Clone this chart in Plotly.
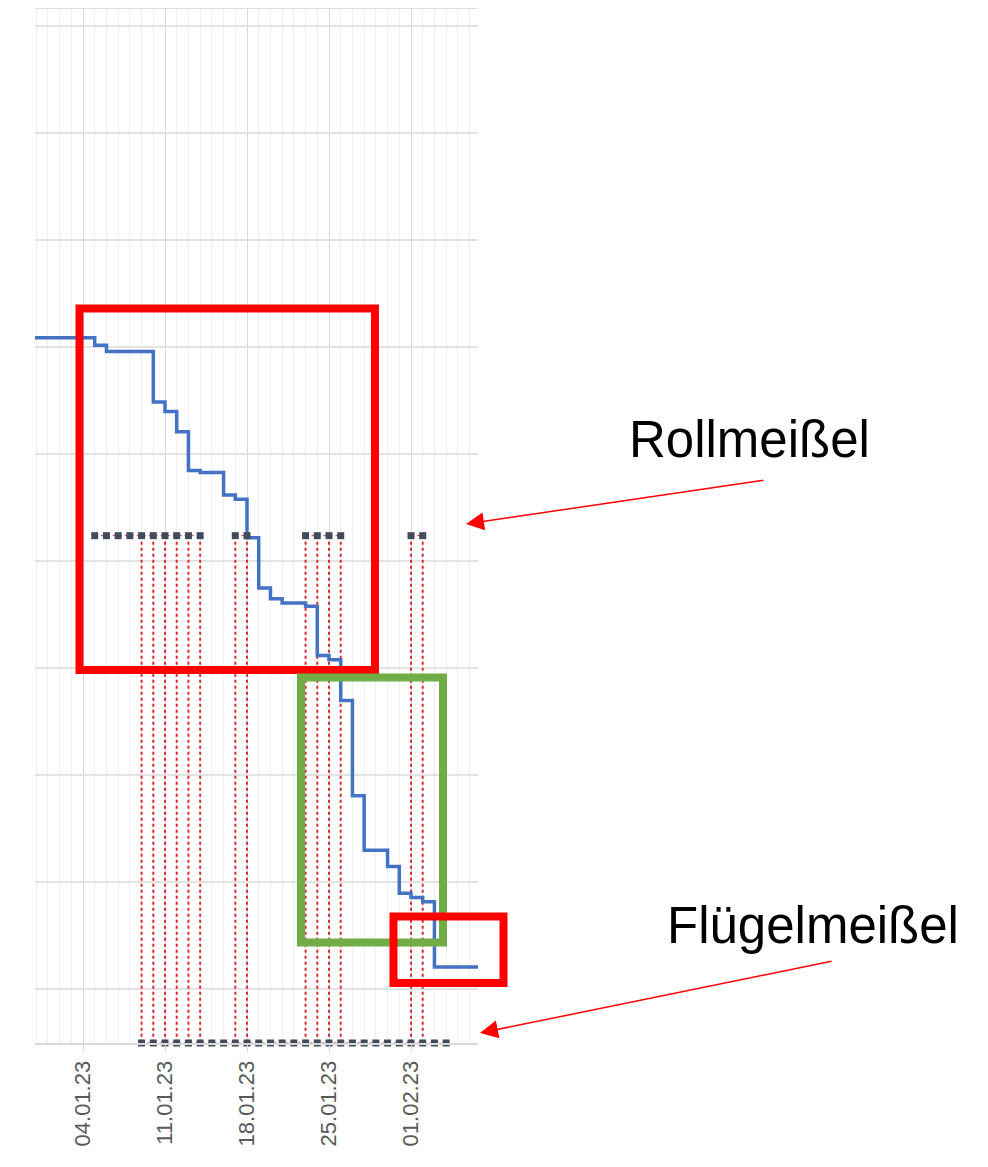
import plotly.graph_objects as go

# ---------------- data ----------------
step_dates = ["2022-12-30", "2023-01-05", "2023-01-06", "2023-01-10", "2023-01-11",
              "2023-01-12", "2023-01-13", "2023-01-14", "2023-01-16", "2023-01-17",
              "2023-01-18", "2023-01-19", "2023-01-20", "2023-01-21", "2023-01-23",
              "2023-01-24", "2023-01-25", "2023-01-26", "2023-01-27", "2023-01-28",
              "2023-01-30", "2023-01-31", "2023-02-01", "2023-02-02", "2023-02-03",
              "2023-02-07"]
step_values = [609, 602, 596, 549, 540, 521, 485, 483, 462, 458, 422, 375, 365, 361,
               358, 312, 308, 270, 181, 130, 115, 90, 86, 82, 21, 21]

roll_dates = ["2023-01-05", "2023-01-06", "2023-01-07", "2023-01-08", "2023-01-09",
              "2023-01-10", "2023-01-11", "2023-01-12", "2023-01-13", "2023-01-14",
              None,
              "2023-01-17", "2023-01-18",
              None,
              "2023-01-23", "2023-01-24", "2023-01-25", "2023-01-26",
              None,
              "2023-02-01", "2023-02-02"]
roll_level = 424

fluegel_dates = ["2023-01-%02d" % d for d in range(9, 32)] + \
                ["2023-02-%02d" % d for d in range(1, 5)]
fluegel_level = -50

drop_dates = ["2023-01-09", "2023-01-10", "2023-01-11", "2023-01-12", "2023-01-13",
              "2023-01-14", "2023-01-17", "2023-01-18", "2023-01-23", "2023-01-24",
              "2023-01-25", "2023-01-26", "2023-02-01", "2023-02-02"]

# ---------------- layout geometry ----------------
OFF = 8                      # page body margin
W, H = 988 - 2 * OFF, 1167 - 2 * OFF
PL, PR, PT, PB = 35, 478, 8, 1043   # plot area in page pixels


def px(x):
    return (x - PL) / (PR - PL)


def py(y):
    return (PB - y) / (PB - PT)


MARK = "#414b5a"
RED_DOT = "#dd2a2f"

fig = go.Figure()

# vertical dotted drop lines
vx, vy = [], []
for d in drop_dates:
    vx += [d, d, None]
    vy += [roll_level, fluegel_level, None]
fig.add_trace(go.Scatter(x=vx, y=vy, mode="lines",
                         line=dict(color=RED_DOT, width=2, dash="dot"),
                         hoverinfo="skip", showlegend=False, cliponaxis=False))

# step line
fig.add_trace(go.Scatter(x=step_dates, y=step_values, mode="lines",
                         line=dict(color="#4472c4", width=3.5, shape="hv"),
                         showlegend=False))

# Rollmeißel markers
fig.add_trace(go.Scatter(x=roll_dates, y=[roll_level if d else None for d in roll_dates],
                         mode="lines+markers",
                         line=dict(color=RED_DOT, width=1, dash="dot"),
                         marker=dict(symbol="square", size=7, color=MARK),
                         showlegend=False, cliponaxis=False))

# Flügelmeißel markers
fig.add_trace(go.Scatter(x=fluegel_dates, y=[fluegel_level] * len(fluegel_dates),
                         mode="lines+markers",
                         line=dict(color=RED_DOT, width=1, dash="dot"),
                         marker=dict(symbol="square", size=7, color=MARK),
                         showlegend=False, cliponaxis=False))

DAY = 86400000
fig.update_layout(
    width=W, height=H,
    margin=dict(l=PL - OFF, r=W - (PR - OFF), t=PT - OFF, b=H - (PB - OFF)),
    paper_bgcolor="white", plot_bgcolor="white",
    font=dict(family="Liberation Sans, Arial, sans-serif"),
    xaxis=dict(
        type="date",
        range=["2022-12-30 21:40", "2023-02-06 17:15"],
        tick0="2023-01-04", dtick=7 * DAY,
        tickformat="%d.%m.%y", tickangle=-90,
        tickfont=dict(size=22, color="#595959"),
        showgrid=True, gridcolor="#d9d9d9", gridwidth=1,
        ticks="outside", ticklen=7, tickcolor="#d9d9d9",
        minor=dict(dtick=DAY, tick0="2023-01-04", showgrid=True,
                   gridcolor="#efefef", gridwidth=1),
        showline=True, linecolor="#d9d9d9", linewidth=2,
        zeroline=False, fixedrange=True,
    ),
    yaxis=dict(
        range=[-50, 917], tick0=0, dtick=100,
        showticklabels=False, showgrid=True, gridcolor="#e3e3e3", gridwidth=2,
        zeroline=False, showline=False, fixedrange=True,
    ),
)

# top border line
fig.add_shape(type="line", xref="paper", yref="paper", x0=0, x1=1, y0=1, y1=1,
              line=dict(color="#dedede", width=2))

# highlight boxes
boxes = [
    (79.5, 375, 308.5, 670, "#ff0000"),
    (301, 443, 677.5, 942.5, "#70ad47"),
    (393.5, 503.5, 916.5, 983, "#ff0000"),
]
for x0, x1, y0, y1, c in boxes:
    fig.add_shape(type="rect", xref="paper", yref="paper",
                  x0=px(x0), x1=px(x1), y0=py(y1), y1=py(y0),
                  line=dict(color=c, width=8), fillcolor="rgba(0,0,0,0)")

# labels
fig.add_annotation(xref="paper", yref="paper", x=px(749), y=py(439),
                   text="Rollmeißel", showarrow=False, xanchor="center", yanchor="middle",
                   font=dict(size=51, color="black", family="Liberation Sans, Arial"))
fig.add_annotation(xref="paper", yref="paper", x=px(813), y=py(925),
                   text="Flügelmeißel", showarrow=False, xanchor="center", yanchor="middle",
                   font=dict(size=51, color="black", family="Liberation Sans, Arial"))

# arrows
for tip, tail in [((466, 524), (765, 480)), ((480, 1033), (833, 961))]:
    fig.add_annotation(xref="paper", yref="paper", x=px(tip[0]), y=py(tip[1]),
                       ax=tail[0] - tip[0], ay=tail[1] - tip[1],
                       text="", showarrow=True, arrowhead=2, arrowsize=2.4,
                       arrowwidth=1.5, arrowcolor="#ff0000")

fig.write_html("out.html")
